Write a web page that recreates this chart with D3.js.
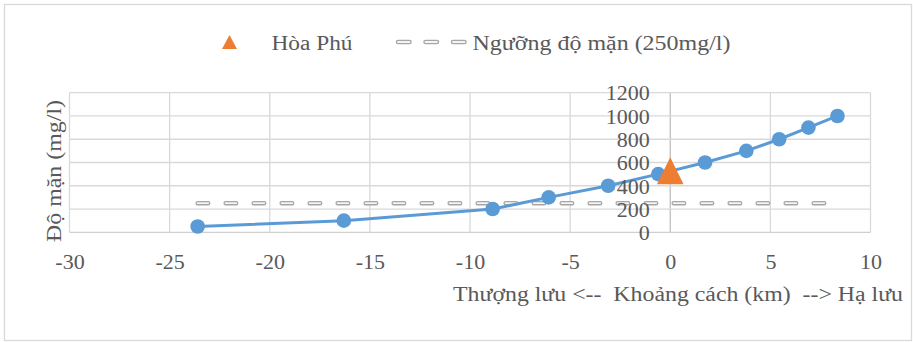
<!DOCTYPE html>
<html>
<head>
<meta charset="utf-8">
<script src="https://cdn.jsdelivr.net/npm/d3@7"></script>
<style>
  html, body { margin: 0; padding: 0; background: #ffffff; }
  svg { display: block; }
</style>
</head>
<body>
<script>
// Salinity profile along the river (km relative to Hòa Phú; negative = upstream)
const distanceKm = [-23.6, -16.3, -8.87, -6.07, -3.1, -0.6, 1.74, 3.8, 5.44, 6.9, 8.35];
const salinity   = [50, 100, 200, 300, 400, 500, 600, 700, 800, 900, 1000];

// Monitoring station
const stationNames    = ["Hòa Phú"];
const stationKm       = [0];
const stationSalinity = [530];

// Salinity threshold line
const thresholdValue = 250;
const thresholdKm    = [-23.6, 8.35];
const thresholdLabel = "Ngưỡng độ mặn (250mg/l)";

// Axes
const xTicks = [-30, -25, -20, -15, -10, -5, 0, 5, 10];
const yTicks = [0, 200, 400, 600, 800, 1000, 1200];
const xTitle = "Thượng lưu <--  Khoảng cách (km)  --> Hạ lưu";
const yTitle = "Độ mặn (mg/l)";

const W = 913, H = 342;
const FS = 20.5;      // title / legend font size
const TFS = 22;       // tick label font size
const FONT = "'Liberation Serif'";

const svg = d3.select("body").append("svg").attr("width", W).attr("height", H);

// Chart frame
svg.append("rect")
  .attr("x", 4.5).attr("y", 4.5).attr("width", 907).attr("height", 336)
  .attr("fill", "#fff").attr("stroke", "#d9d9d9").attr("stroke-width", 1.3);

const x = d3.scaleLinear().domain([-30, 10]).range([69.5, 870.5]);
const y = d3.scaleLinear().domain([0, 1200]).range([232.3, 92.7]);

// Gridlines
const grid = svg.append("g");
grid.selectAll("line.v").data(xTicks).join("line")
  .attr("x1", d => x(d)).attr("x2", d => x(d))
  .attr("y1", y(0)).attr("y2", y(1200))
  .attr("stroke", d => d === 0 ? "#bfbfbf" : "#d9d9d9").attr("stroke-width", 1.3);
grid.selectAll("line.h").data(yTicks).join("line")
  .attr("x1", x(-30)).attr("x2", x(10))
  .attr("y1", d => y(d)).attr("y2", d => y(d))
  .attr("stroke", d => d === 0 ? "#cfcfcf" : "#d9d9d9").attr("stroke-width", 1.3);

// Threshold line (rounded dashes, outline + light core)
const thrLine = d3.line().x(d => x(d)).y(() => y(thresholdValue));
svg.append("path").datum(thresholdKm).attr("d", thrLine)
  .attr("fill", "none").attr("stroke", "#a6a6a6").attr("stroke-width", 4.5)
  .attr("stroke-linecap", "round").attr("stroke-dasharray", "10.5,17.5");
svg.append("path").datum(thresholdKm).attr("d", thrLine)
  .attr("fill", "none").attr("stroke", "#f4f4f4").attr("stroke-width", 1.8)
  .attr("stroke-linecap", "round").attr("stroke-dasharray", "10.5,17.5");

// Salinity profile
const pts = distanceKm.map((d, i) => [d, salinity[i]]);
svg.append("path").datum(pts)
  .attr("d", d3.line().x(d => x(d[0])).y(d => y(d[1])))
  .attr("fill", "none").attr("stroke", "#5b9bd5").attr("stroke-width", 3);
svg.selectAll("circle.pt").data(pts).join("circle")
  .attr("cx", d => x(d[0])).attr("cy", d => y(d[1])).attr("r", 7.3)
  .attr("fill", "#5b9bd5");

// Station marker (triangle centred on its value)
const tri = (w, h) => `M0,${-h / 2}L${w / 2},${h / 2}L${-w / 2},${h / 2}Z`;
svg.selectAll("path.station").data(stationKm).join("path")
  .attr("transform", (d, i) => `translate(${x(d)},${y(stationSalinity[i])})`)
  .attr("d", tri(26.6, 27)).attr("fill", "#ed7d31");

// Shared text styling
function styled(sel, size = FS) {
  return sel.style("font-family", FONT).style("font-size", size + "px").attr("fill", "#595959");
}

// Axes (labels only, no tick marks)
const xAxis = svg.append("g").attr("transform", `translate(0,${y(0)})`)
  .call(d3.axisBottom(x).tickValues(xTicks).tickSize(0).tickPadding(0).tickFormat(d => String(d)));
xAxis.select(".domain").remove();
xAxis.attr("font-family", null).attr("font-size", null);
styled(xAxis.selectAll("text"), TFS)
  .attr("y", 37).attr("dy", 0);

const yAxis = svg.append("g").attr("transform", `translate(${x(0)},0)`)
  .call(d3.axisLeft(y).tickValues(yTicks).tickSize(0).tickPadding(0).tickFormat(d => String(d)));
yAxis.select(".domain").remove();
yAxis.attr("font-family", null).attr("font-size", null);
styled(yAxis.selectAll("text"), TFS)
  .attr("x", -20.5).attr("dy", "0.33em");

// Axis titles
styled(svg.append("text"))
  .attr("x", 453).attr("y", 300.5)
  .style("white-space", "pre")
  .attr("textLength", 450).attr("lengthAdjust", "spacingAndGlyphs")
  .text(xTitle);

styled(svg.append("text"))
  .attr("transform", "translate(61,171) rotate(-90)")
  .attr("text-anchor", "middle")
  .attr("textLength", 142).attr("lengthAdjust", "spacingAndGlyphs")
  .text(yTitle);

// Legend
const legend = svg.append("g");
legend.selectAll("path.lg").data(stationNames).join("path")
  .attr("transform", "translate(229.5,42)")
  .attr("d", tri(15, 14)).attr("fill", "#ed7d31");
styled(legend.selectAll("text.lg1").data(stationNames).join("text"))
  .attr("x", 271.5).attr("y", 49.5)
  .attr("textLength", 81).attr("lengthAdjust", "spacingAndGlyphs")
  .text(d => d);

const legDash = [[398, 42], [465, 42]];
legend.append("path").attr("d", d3.line()(legDash))
  .attr("stroke", "#a6a6a6").attr("stroke-width", 4.5).attr("stroke-linecap", "round")
  .attr("stroke-dasharray", "11.5,16");
legend.append("path").attr("d", d3.line()(legDash))
  .attr("stroke", "#f4f4f4").attr("stroke-width", 1.8).attr("stroke-linecap", "round")
  .attr("stroke-dasharray", "11.5,16");
styled(legend.append("text"))
  .attr("x", 472.5).attr("y", 49.5)
  .attr("textLength", 258).attr("lengthAdjust", "spacingAndGlyphs")
  .text(thresholdLabel);
</script>
</body>
</html>
